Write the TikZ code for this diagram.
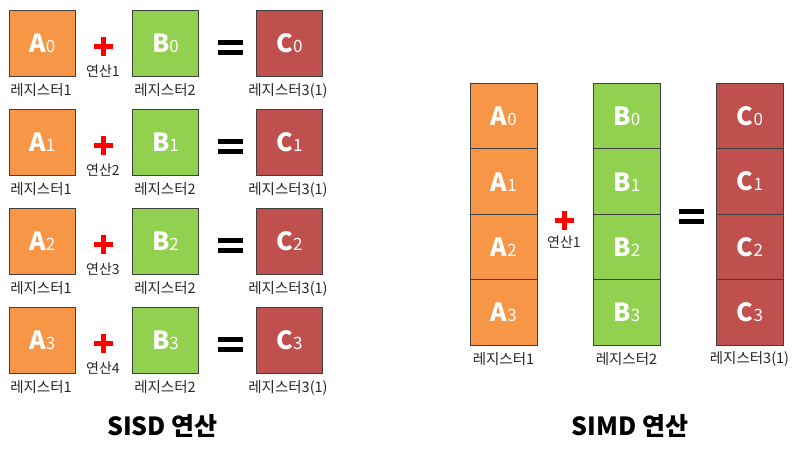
\documentclass[tikz,border=0pt]{standalone}
\usepackage{fontspec}
\setmainfont{Noto Sans CJK KR}
\definecolor{orA}{HTML}{F79646}
\definecolor{grB}{HTML}{92D050}
\definecolor{rdC}{HTML}{C0504D}
\definecolor{edge}{HTML}{3F3F3F}
\newcommand{\cell}[2]{{\fontsize{25}{25}\selectfont\bfseries #1}{\fontsize{17}{17}\selectfont #2}}
\tikzset{
  reg/.style={draw=edge, line width=0.9pt, minimum width=66pt, minimum height=66pt, inner sep=0pt, text=white, anchor=north west},
  cellbox/.style={draw=edge, line width=0.9pt, minimum width=67pt, minimum height=65.5pt, inner sep=0pt, text=white, anchor=north west},
  lbl/.style={font=\fontsize{14.5}{14.5}\selectfont, text=black!85, inner sep=0pt},
  oplbl/.style={font=\fontsize{14}{14}\selectfont, text=black!85, inner sep=0pt},
  title/.style={font=\fontsize{25}{25}\selectfont\bfseries, inner sep=0pt},
  plusbar/.style={draw=red, line width=5.5pt},
  eqbar/.style={draw=black, line width=5pt}
}
\newcommand{\plussign}[2]{%
  \draw[plusbar] (#1-9.5,#2) -- (#1+9.5,#2);
  \draw[plusbar] (#1,#2-9.5) -- (#1,#2+9.5);}
\newcommand{\eqsign}[2]{%
  \draw[eqbar] (#1-12.5,#2-5) -- (#1+12.5,#2-5);
  \draw[eqbar] (#1-12.5,#2+5) -- (#1+12.5,#2+5);}
\begin{document}
\begin{tikzpicture}[x=1pt,y=-1pt]
\useasboundingbox (0,0) rectangle (807,457);
% SISD rows
\foreach \i/\t in {0/10,1/109,2/208,3/307}{
  \pgfmathtruncatemacro{\n}{\i+1}
  \node[reg, fill=orA] (sa\i) at (9,\t) {\cell{A}{\i}};
  \node[reg, fill=grB] (sb\i) at (132,\t) {\cell{B}{\i}};
  \node[reg, fill=rdC] (sc\i) at (256,\t) {\cell{C}{\i}};
  \node[lbl] (sla\i) at (41,\t+80) {레지스터1};
  \node[lbl] (slb\i) at (165,\t+80) {레지스터2};
  \node[lbl] (slc\i) at (288,\t+81) {레지스터3(1)};
  \node[oplbl] (sop\i) at (103,\t+61) {연산\n};
  \plussign{103.5}{\t+36.5}
  \eqsign{230}{\t+37.5}
}
% SIMD columns
\foreach \i in {0,1,2,3}{
  \pgfmathsetmacro{\yy}{83+65.5*\i}
  \node[cellbox, fill=orA] (ma\i) at (470,\yy) {\cell{A}{\i}};
  \node[cellbox, fill=grB] (mb\i) at (593,\yy) {\cell{B}{\i}};
  \node[cellbox, fill=rdC] (mc\i) at (716,\yy) {\cell{C}{\i}};
}
\node[lbl] (mla) at (503.5,359) {레지스터1};
\node[lbl] (mlb) at (626.5,359) {레지스터2};
\node[lbl] (mlc) at (749.5,359) {레지스터3(1)};
\plussign{564.5}{220.5}
\node[oplbl] (mop) at (564,242) {연산1};
\eqsign{691.5}{217}
% titles
\node[title] (t1) at (162.5,426) {SISD 연산};
\node[title] (t2) at (630,426) {SIMD 연산};
\end{tikzpicture}
\end{document}
